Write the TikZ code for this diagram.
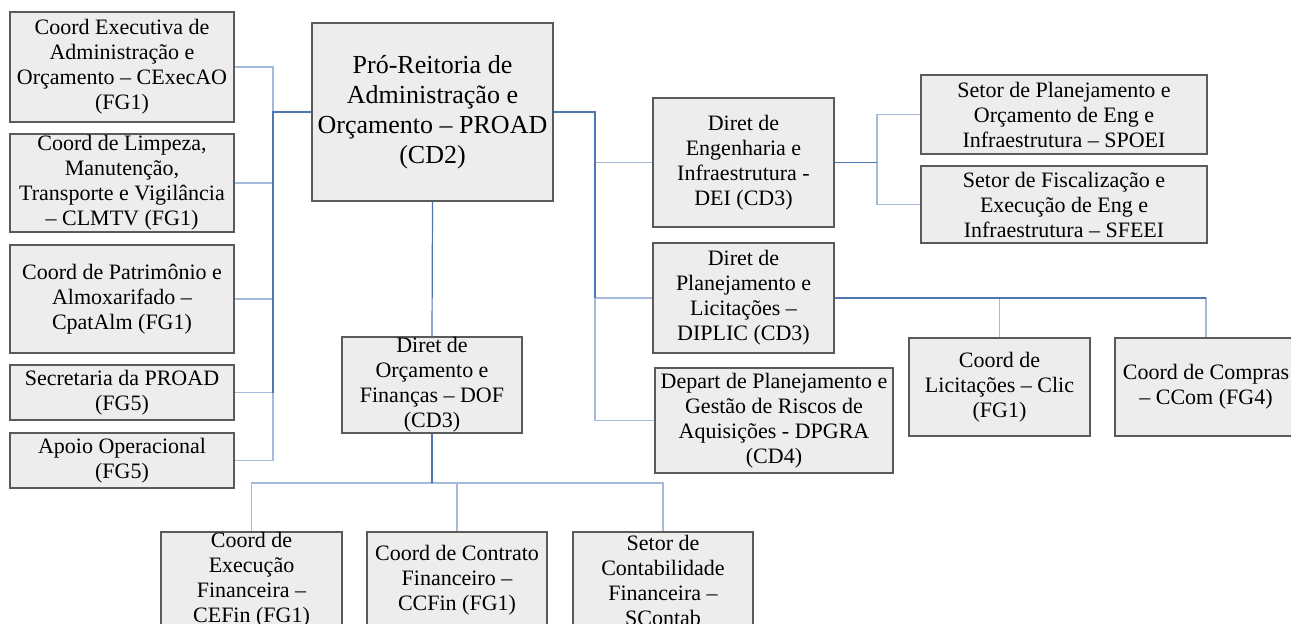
\documentclass[tikz,border=0pt]{standalone}
\usepackage{fontspec}
\setmainfont{Liberation Serif}
\definecolor{boxfill}{HTML}{EDEDED}
\definecolor{boxline}{HTML}{5A5A5A}
\definecolor{linkdark}{HTML}{4F74B2}
\definecolor{linklight}{HTML}{A3BADD}
\begin{document}
\begin{tikzpicture}[x=0.75pt, y=-0.75pt,
  sz/.style 2 args={minimum width=#1*0.75pt, minimum height=#2*0.75pt},
  unit/.style={draw=boxline, fill=boxfill, line width=1pt, inner sep=0pt,
    align=center, font=\fontsize{16.5}{18.75}\selectfont},
  headunit/.style={unit, font=\fontsize{19.5}{22.5}\selectfont},
  stem/.style={draw=linkdark, line width=0.9pt},
  twig/.style={draw=linklight, line width=0.9pt}]
%
\useasboundingbox (0,0) rectangle (1291,624);
%
\path
(432.5,112) node[headunit, sz={241}{178}] (proad)
  {Pró-Reitoria de\\Administração e\\Orçamento – PROAD\\(CD2)}
%
(122,67) node[unit, sz={224}{110}] (cexec)
  {Coord Executiva de\\Administração e\\Orçamento – CExecAO\\(FG1)}
(122,183) node[unit, sz={224}{98}] (clmtv)
  {Coord de Limpeza,\\Manutenção,\\Transporte e Vigilância\\– CLMTV (FG1)}
(122,299) node[unit, sz={224}{108}] (cpat)
  {Coord de Patrimônio e\\Almoxarifado –\\CpatAlm (FG1)}
(122,392.5) node[unit, sz={224}{55}] (sec)
  {Secretaria da PROAD\\(FG5)}
(122,460.5) node[unit, sz={224}{55}] (apoio)
  {Apoio Operacional\\(FG5)}
%
(743.5,162.5) node[unit, sz={181}{129}] (dei)
  {Diret de\\Engenharia e\\Infraestrutura -\\DEI (CD3)}
(743.5,298) node[unit, sz={181}{110}] (diplic)
  {Diret de\\Planejamento e\\Licitações –\\DIPLIC (CD3)}
(774,420.5) node[unit, sz={238}{105}] (dpgra)
  {Depart de Planejamento e\\Gestão de Riscos de\\Aquisições - DPGRA\\(CD4)}
%
(1064,114.5) node[unit, sz={286}{79}] (spoei)
  {Setor de Planejamento e\\Orçamento de Eng e\\Infraestrutura – SPOEI}
(1064,204.5) node[unit, sz={286}{77}] (sfeei)
  {Setor de Fiscalização e\\Execução de Eng e\\Infraestrutura – SFEEI}
%
(999.5,387) node[unit, sz={181}{98}] (clic)
  {Coord de\\Licitações – Clic\\(FG1)}
(1206,387) node[unit, sz={182}{98}] (ccom)
  {Coord de Compras\\– CCom (FG4)}
%
(432,385) node[unit, sz={180}{96}] (dof)
  {Diret de\\Orçamento e\\Finanças – DOF\\(CD3)}
(251.5,580) node[unit, sz={181}{96}] (cefin)
  {Coord de\\Execução\\Financeira –\\CEFin (FG1)}
(457,580) node[unit, sz={180}{96}] (ccfin)
  {Coord de Contrato\\Financeiro –\\CCFin (FG1)}
(663,580) node[unit, sz={180}{96}] (scontab)
  {Setor de\\Contabilidade\\Financeira –\\SContab};
%
\coordinate (lbus) at (273,112);
\coordinate (rbus) at (595,112);
\coordinate (ebus) at (877,162.5);
\coordinate (fbus) at (432,483);
%
\draw[twig] \foreach \n in {cexec,clmtv,cpat,sec,apoio} {(lbus) |- (\n.east)};
\draw[stem] (proad.west) -- (lbus) -- (lbus |- sec.east);
%
\draw[twig] \foreach \n in {dei,diplic,dpgra} {(rbus) |- (\n.west)};
\draw[stem] (proad.east) -- (rbus) -- (rbus |- diplic.west);
%
\draw[twig] \foreach \n in {spoei,sfeei} {(ebus) |- (\n.west)};
\draw[stem] (dei.east) -- (ebus);
%
\draw[twig] \foreach \n in {clic,ccom} {(diplic.east) -| (\n.north)};
\draw[stem] (diplic.east) -- (diplic.east -| ccom.north);
%
\draw[stem] (proad.south) -- (dof.north);
\draw[twig] \foreach \n in {cefin,ccfin,scontab} {(fbus) -| (\n.north)};
\draw[stem] (dof.south) -- (fbus);
%
\end{tikzpicture}
\end{document}
